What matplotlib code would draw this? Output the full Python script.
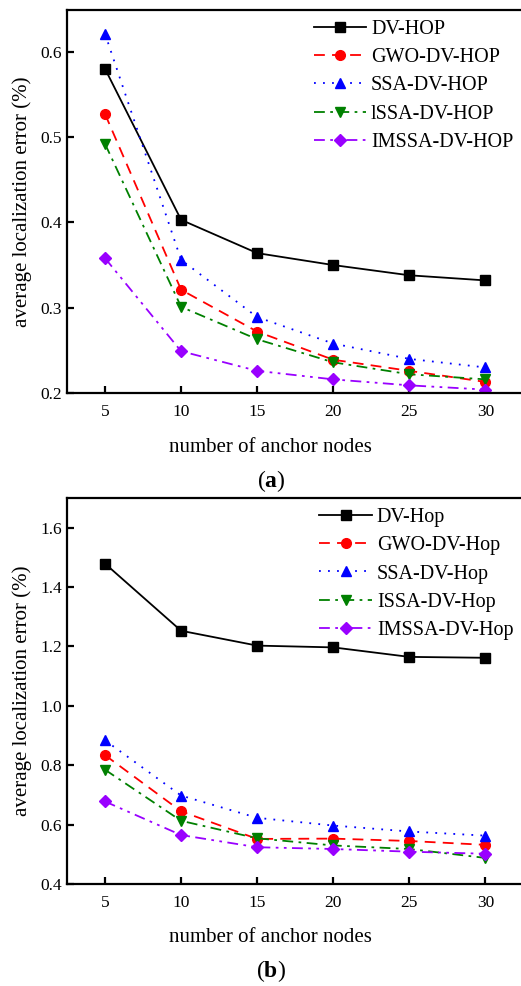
import matplotlib
matplotlib.use('Agg')
import matplotlib.pyplot as plt

plt.rcParams['font.family'] = ['Liberation Serif', 'DejaVu Serif']
plt.rcParams['mathtext.fontset'] = 'custom'
plt.rcParams['mathtext.rm'] = 'Liberation Serif'
plt.rcParams['mathtext.bf'] = 'Liberation Serif:bold'

anchors = [5, 10, 15, 20, 25, 30]

# panel (a)
labels_a = ['DV-HOP', 'GWO-DV-HOP', 'SSA-DV-HOP', 'lSSA-DV-HOP', 'IMSSA-DV-HOP']
dv_a = [0.580, 0.403, 0.364, 0.350, 0.338, 0.332]
gwo_a = [0.527, 0.321, 0.272, 0.239, 0.226, 0.213]
ssa_a = [0.621, 0.356, 0.289, 0.258, 0.240, 0.230]
issa_a = [0.492, 0.301, 0.263, 0.236, 0.222, 0.216]
imssa_a = [0.358, 0.249, 0.226, 0.216, 0.209, 0.204]

# panel (b)
labels_b = ['DV-Hop', 'GWO-DV-Hop', 'SSA-DV-Hop', 'ISSA-DV-Hop', 'IMSSA-DV-Hop']
dv_b = [1.479, 1.253, 1.203, 1.197, 1.165, 1.162]
gwo_b = [0.834, 0.645, 0.552, 0.553, 0.545, 0.532]
ssa_b = [0.884, 0.698, 0.623, 0.597, 0.577, 0.563]
issa_b = [0.785, 0.613, 0.554, 0.530, 0.518, 0.488]
imssa_b = [0.678, 0.565, 0.524, 0.518, 0.509, 0.502]

styles = [
    dict(color='black', ls='-', marker='s'),
    dict(color='red', ls=(0, (6, 4)), marker='o'),
    dict(color='blue', ls=(0, (1, 4)), marker='^'),
    dict(color='green', ls=(0, (6, 3, 1.5, 3)), marker='v'),
    dict(color='#9900ff', ls=(0, (6, 3, 1.5, 3, 1.5, 3)), marker='D'),
]

fig = plt.figure(figsize=(5.21, 9.86), dpi=100)


def panel(rect, series, labels, ylim, yticks, tag, xlab_y, tag_y):
    ax = fig.add_axes(rect)
    for ys, lab, st in zip(series, labels, styles):
        ms = 6 if st['marker'] == 'D' else 7
        ax.plot(anchors, ys, label=lab, lw=1.3, markersize=ms, **st)
    ax.set_xlim(2.5, 32.5)
    ax.set_ylim(*ylim)
    ax.set_xticks(anchors)
    ax.set_yticks(yticks)
    ax.set_yticklabels([f'{t:.1f}' for t in yticks])
    ax.tick_params(direction='in', width=1.6, length=5, labelsize=12.5)
    ax.tick_params(axis='x', pad=8)
    for s in ax.spines.values():
        s.set_linewidth(1.6)
    ax.set_ylabel('average localization error (%)', fontsize=15, labelpad=6)
    ax.legend(loc='upper right', frameon=False, fontsize=14.5, handlelength=2.6,
              handletextpad=0.25, labelspacing=0.45, borderaxespad=0.1,
              bbox_to_anchor=(1.0, 1.0))
    fig.text(0.52, xlab_y, 'number of anchor nodes', ha='center', va='center', fontsize=15)
    fig.text(0.52, tag_y, tag, ha='center', va='center', fontsize=17)
    return ax


panel([0.1286, 0.6014, 0.876, 0.3885], [dv_a, gwo_a, ssa_a, issa_a, imssa_a], labels_a,
      (0.2, 0.649), [0.2, 0.3, 0.4, 0.5, 0.6], r'($\mathbf{a}$)', 1 - 447 / 986, 1 - 481 / 986)
panel([0.1286, 0.1034, 0.876, 0.3915], [dv_b, gwo_b, ssa_b, issa_b, imssa_b], labels_b,
      (0.4, 1.70), [0.4, 0.6, 0.8, 1.0, 1.2, 1.4, 1.6], r'($\mathbf{b}$)', 1 - 938 / 986, 1 - 971 / 986)

fig.savefig('out.png', dpi=100)
